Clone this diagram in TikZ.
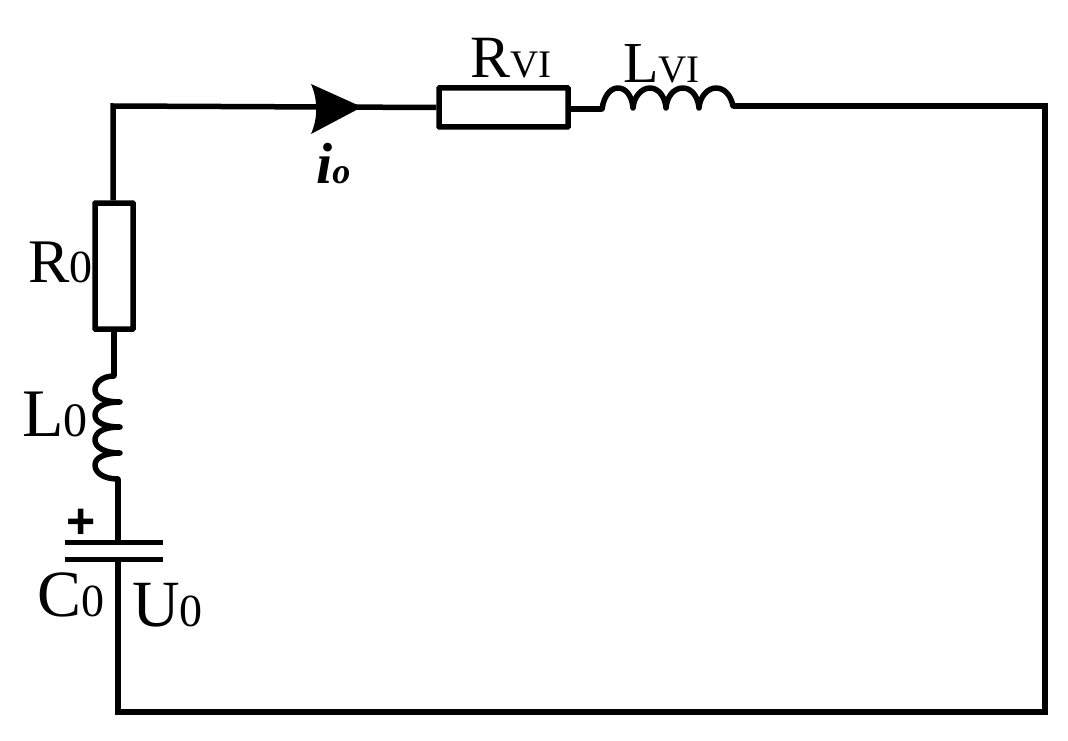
\documentclass[tikz,border=0pt]{standalone}
\usepackage{fontspec}
\setmainfont{Liberation Serif}
\newfontfamily\plusfont{Liberation Sans}
\newcommand{\fsz}[1]{\fontsize{#1}{#1}\selectfont}
\tikzset{
  wire/.style={line width=5.5pt,line join=miter},
  coil/.style={line width=5.5pt,line join=round,line cap=round},
  plate/.style={line width=5pt},
  resistor/.style={draw,line width=5.5pt,fill=white,minimum width=#1,inner sep=0pt,rounded corners=0.5pt},
  lab/.style={inner sep=0pt,anchor=base west}
}
\begin{document}
\begin{tikzpicture}[x=1pt,y=-1pt]
\useasboundingbox (0,0) rectangle (1068,741);
% elements
\node[resistor=129pt,minimum height=39pt] (rvi) at (503.5,107.5) {};
\coordinate (tl) at (113,106);
\coordinate (tr) at (1045,106);
\coordinate (br) at (1045,712);
\coordinate (bl) at (118,712);
\coordinate (capt) at (118,542);
\coordinate (capb) at (118,559);
\coordinate (p1a) at (65,542); \coordinate (p1b) at (163,542);
\coordinate (p2a) at (65,559); \coordinate (p2b) at (163,559);
\coordinate (lvia) at (602,109);
\coordinate (lvib) at (733,106);
\coordinate (l0a) at (114,376);
\coordinate (l0b) at (118,479);
% labels (the resistor box covers the end of the R0 label)
\node[lab] (lr0) at (28,282) {\fsz{62}R\fsz{46}0};
\node[lab] (ll0) at (22,436) {\fsz{68}L\fsz{48}0};
\node[lab] (lc0) at (37,616) {\fsz{66}C\fsz{46}0};
\node[lab] (lu0) at (132,626) {\fsz{66}U\fsz{46}0};
\node[lab] (lrvi) at (470,78) {\fsz{60}R\fsz{39}VI};
\node[lab] (llvi) at (623,83) {\fsz{58}L\fsz{39}VI};
\node[lab] (li0) at (316,183) {\bfseries\itshape\fsz{58}i\fsz{36}o};
\node[inner sep=0pt] (plus) at (81,524) {\plusfont\bfseries\fsz{50}+};
\node[resistor=38pt,minimum height=126pt] (r0) at (114,266) {};
% wires
\draw[wire] (rvi.west) -- (tl) -- (r0.north -| tl);
\draw[wire] (r0.south) -- (l0a);
\draw[wire] (l0b) -- (capt);
\draw[wire] (capb) -- (bl) -- (br) -- (tr) -- (lvib);
\draw[wire] (rvi.east |- lvia) -- (lvia);
% capacitor
\draw[plate] (p1a) -- (p1b);
\draw[plate] (p2a) -- (p2b);
% L_VI coil
\draw[coil] (lvia)
  .. controls (604,95) and (611,88) .. (618,88)
  .. controls (626,88) and (632,96) .. (633,108)
  .. controls (634,96) and (642,88) .. (650,88)
  .. controls (658,88) and (665,96) .. (666,108)
  .. controls (667,96) and (674,88) .. (683,88)
  .. controls (691,88) and (698,96) .. (699,108)
  .. controls (700,96) and (708,88) .. (716,88)
  .. controls (725,88) and (731,96) .. (lvib);
% L_0 coil
\draw[coil] (l0a)
  .. controls (102,376) and (95,383) .. (95,390)
  .. controls (95,397) and (104,402) .. (120,402)
  .. controls (104,402) and (95,407) .. (95,415)
  .. controls (95,422) and (104,427) .. (120,427)
  .. controls (104,427) and (95,432) .. (95,440)
  .. controls (95,447) and (104,453) .. (120,453)
  .. controls (104,453) and (95,458) .. (95,465)
  .. controls (95,473) and (104,479) .. (l0b);
% arrowhead
\fill (311,84) -- (362,107) -- (311,134) .. controls (318,118) and (318,100) .. (311,84);
\end{tikzpicture}
\end{document}
